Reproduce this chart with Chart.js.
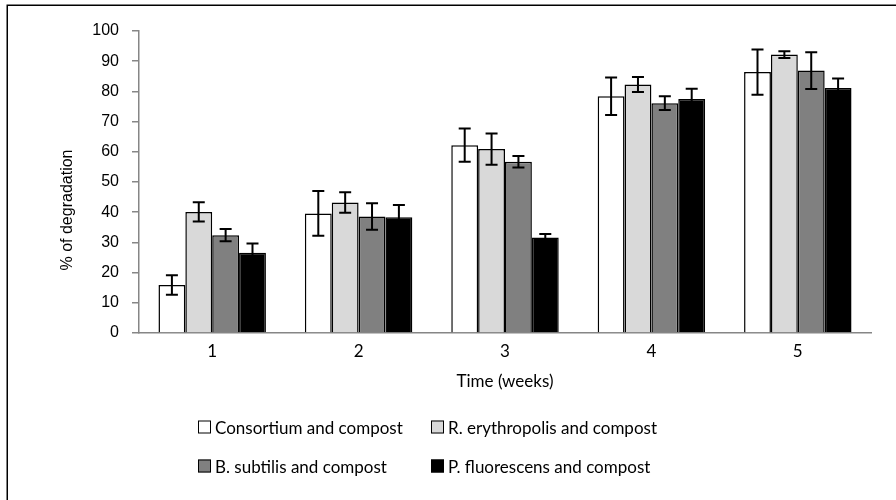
<!DOCTYPE html>
<html>
<head>
<meta charset="utf-8">
<script src="https://cdn.jsdelivr.net/npm/chart.js@4"></script>
<style>
  html, body { margin: 0; padding: 0; background: #fff; }
  #wrap { position: relative; width: 896px; height: 500px; overflow: hidden; }
  #legend { position: absolute; left: 0; top: 0; font-family: Lato, "Open Sans", sans-serif; font-size: 17px; color: #000; }
  .item { position: absolute; display: flex; align-items: center; white-space: nowrap; transform: translateY(-50%); }
  .box { width: 11px; height: 11px; border: 1px solid #000; margin-right: 4px; box-sizing: content-box; }
</style>
</head>
<body>
<div id="wrap">
  <canvas id="chart" width="896" height="500"></canvas>
  <div id="legend"></div>
</div>
<script>
// weekly degradation (%) with standard deviations
const weeks = ['1', '2', '3', '4', '5'];
const seriesNames = [
  'Consortium and compost',
  'R. erythropolis and compost',
  'B. subtilis and compost',
  'P. fluorescens and compost'
];
const consortium = [15.9, 39.6, 62.2, 78.4, 86.4];
const erythropolis = [40.1, 43.2, 60.9, 82.3, 92.2];
const subtilis = [32.4, 38.6, 56.7, 76.1, 86.9];
const fluorescens = [26.6, 38.3, 31.6, 77.5, 81.1];

const consortiumErr = [3.2, 7.4, 5.5, 6.2, 7.5];
const erythropolisErr = [3.2, 3.4, 5.2, 2.5, 1.1];
const subtilisErr = [2.0, 4.4, 1.9, 2.3, 6.1];
const fluorescensErr = [3.0, 4.1, 1.2, 3.4, 3.2];

const fills = ['#ffffff', '#d9d9d9', '#808080', '#000000'];
const values = [consortium, erythropolis, subtilis, fluorescens];
const errors = [consortiumErr, erythropolisErr, subtilisErr, fluorescensErr];

const yTitle = '% of degradation';
const axisGray = '#868686';
const sansFont = '"Liberation Sans", Arial, sans-serif';
const labelFont = 'Lato, "Open Sans", sans-serif';

// error bars drawn on top of every bar, using the y scale
const errorBars = {
  id: 'errorBars',
  afterDatasetsDraw(chart) {
    const ctx = chart.ctx;
    const y = chart.scales.y;
    ctx.save();
    ctx.strokeStyle = '#000';
    ctx.lineWidth = 2;
    chart.data.datasets.forEach((ds, i) => {
      const meta = chart.getDatasetMeta(i);
      meta.data.forEach((bar, j) => {
        const v = ds.data[j];
        const e = ds.errors[j];
        const top = y.getPixelForValue(v + e);
        const bot = y.getPixelForValue(v - e);
        const x = bar.x;
        ctx.beginPath();
        ctx.moveTo(x, top); ctx.lineTo(x, bot);
        ctx.moveTo(x - 6, top); ctx.lineTo(x + 6, top);
        ctx.moveTo(x - 6, bot); ctx.lineTo(x + 6, bot);
        ctx.stroke();
      });
    });
    ctx.restore();
  }
};

// outer frame and the rotated y axis title (sits a bit below the plot's middle)
const frame = {
  id: 'frame',
  afterDraw(chart) {
    const ctx = chart.ctx;
    ctx.save();
    ctx.strokeStyle = '#000';
    ctx.lineWidth = 1.5;
    ctx.beginPath();
    ctx.moveTo(7.25, 510);
    ctx.lineTo(7.25, 5.25);
    ctx.lineTo(910, 5.25);
    ctx.stroke();

    ctx.translate(68, 210);
    ctx.rotate(-Math.PI / 2);
    ctx.fillStyle = '#000';
    ctx.font = '16px ' + sansFont;
    ctx.textAlign = 'center';
    ctx.textBaseline = 'middle';
    ctx.fillText(yTitle, 0, 0);
    ctx.restore();
  }
};

const chart = new Chart(document.getElementById('chart'), {
  type: 'bar',
  data: {
    labels: weeks,
    datasets: seriesNames.map((name, i) => ({
      label: name,
      data: values[i],
      errors: errors[i],
      backgroundColor: fills[i],
      borderColor: '#000',
      borderWidth: 1.5,
      categoryPercentage: 0.734,
      barPercentage: 1.0
    }))
  },
  options: {
    responsive: false,
    animation: false,
    layout: { padding: { top: 31, right: 25, left: 0, bottom: 0 } },
    plugins: {
      legend: { display: false },
      tooltip: { enabled: false }
    },
    scales: {
      x: {
        grid: { display: false, drawTicks: false },
        border: { display: true, color: axisGray, width: 1.5 },
        ticks: {
          color: '#000',
          padding: 8,
          font: { family: labelFont, size: 17 }
        },
        title: {
          display: true,
          text: 'Time (weeks)',
          color: '#000',
          font: { family: labelFont, size: 17 },
          padding: { top: 0, bottom: 108 }
        },
        afterFit(scale) { scale.height = 167; }
      },
      y: {
        min: 0,
        max: 100,
        ticks: {
          stepSize: 10,
          color: '#000',
          padding: 13,
          font: { family: sansFont, size: 16 }
        },
        grid: { drawOnChartArea: false, drawTicks: true, tickLength: 7, color: axisGray, lineWidth: 1.5 },
        border: { display: true, color: axisGray, width: 1.5 },
        afterFit(scale) { scale.width = 139; }
      }
    }
  },
  plugins: [errorBars, frame]
});

// two-column legend under the plot
const legendPos = [
  { left: 198, top: 427 },
  { left: 431, top: 427 },
  { left: 198, top: 466 },
  { left: 431, top: 466 }
];
const legendEl = document.getElementById('legend');
chart.data.datasets.forEach((ds, i) => {
  const item = document.createElement('div');
  item.className = 'item';
  item.style.left = legendPos[i].left + 'px';
  item.style.top = legendPos[i].top + 'px';
  item.innerHTML = `<span class="box" style="background:${ds.backgroundColor}"></span><span>${ds.label}</span>`;
  legendEl.appendChild(item);
});
</script>
</body>
</html>
